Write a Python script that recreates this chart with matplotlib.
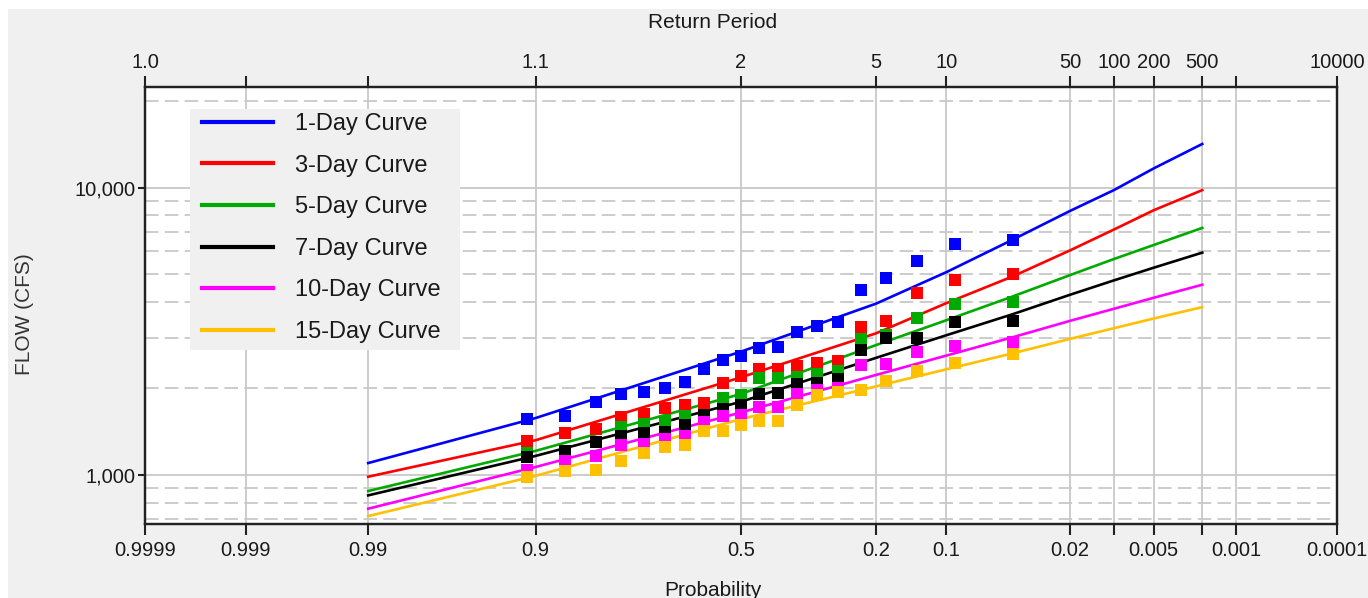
import numpy as np
import matplotlib
matplotlib.use("Agg")
import matplotlib.pyplot as plt
from matplotlib.lines import Line2D
from matplotlib.patches import Rectangle
from matplotlib.ticker import NullLocator, LogLocator, NullFormatter
from statistics import NormalDist

plt.rcParams["font.family"] = ["Liberation Sans", "DejaVu Sans"]

# ---------------------------------------------------------------------------
# Frequency-curve data (exceedance probability vs flow, cfs)
# ---------------------------------------------------------------------------
curve_prob = [0.99, 0.9, 0.5, 0.2, 0.1, 0.045, 0.02, 0.01, 0.005, 0.002]
curve_1day = [1100, 1578, 2687, 3945, 5080, 6590, 8300, 9800, 11670, 14190]
curve_3day = [986, 1321, 2187, 3110, 3963, 4909, 6050, 7145, 8346, 9802]
curve_5day = [879, 1213, 1914, 2830, 3456, 4181, 4962, 5642, 6316, 7240]
curve_7day = [849, 1165, 1798, 2555, 3064, 3627, 4239, 4754, 5265, 5940]
curve_10day = [763, 1066, 1650, 2228, 2603, 3015, 3439, 3787, 4138, 4592]
curve_15day = [719, 993, 1565, 2033, 2332, 2651, 2976, 3241, 3504, 3837]

# Observed annual maxima at their plotting positions
obs_prob = [0.909, 0.864, 0.818, 0.773, 0.727, 0.682, 0.636, 0.591, 0.545, 0.5,
            0.455, 0.409, 0.364, 0.318, 0.273, 0.227, 0.182, 0.136, 0.091, 0.045]
obs_1day = [1565, 1607, 1800, 1920, 1950, 2000, 2105, 2339, 2505, 2603,
            2770, 2780, 3140, 3287, 3401, 4412, 4861, 5540, 6384, 6590]
obs_3day = [1315, 1396, 1443, 1585, 1630, 1705, 1756, 1780, 2089, 2218,
            2331, 2340, 2385, 2450, 2484, 3273, 3440, 4295, 4754, 5011]
obs_5day = [1195, 1216, 1300, 1467, 1507, 1547, 1598, 1615, 1852, 1892,
            2175, 2180, 2185, 2251, 2300, 2980, 3062, 3504, 3945, 3994]
obs_7day = [1158, 1216, 1300, 1371, 1402, 1410, 1498, 1611, 1700, 1746,
            1918, 1928, 2065, 2089, 2163, 2718, 2990, 3008, 3401, 3428]
obs_10day = [1041, 1117, 1167, 1267, 1283, 1336, 1371, 1530, 1598, 1611,
             1722, 1729, 1918, 1968, 2013, 2413, 2436, 2682, 2818, 2912]
obs_15day = [986, 1029, 1041, 1117, 1191, 1250, 1276, 1420, 1420, 1498,
             1535, 1547, 1746, 1892, 1944, 1980, 2117, 2300, 2446, 2639]

series_names = ["1-Day Curve", "3-Day Curve", "5-Day Curve",
                "7-Day Curve", "10-Day Curve", "15-Day Curve"]
series_colors = ["#0000ff", "#ff0000", "#00aa00", "#000000", "#ff00ff", "#ffc000"]

# Axis ticks
tick_prob = [0.9999, 0.999, 0.99, 0.9, 0.5, 0.2, 0.1, 0.02, 0.01, 0.005, 0.002, 0.001, 0.0001]
prob_labels = ["0.9999", "0.999", "0.99", "0.9", "0.5", "0.2", "0.1", "0.02", "",
               "0.005", "", "0.001", "0.0001"]
return_labels = ["1.0", "", "", "1.1", "2", "5", "10", "50", "100",
                 "200", "500", "", "10000"]
flow_ticks = [1000, 10000]
flow_labels = ["1,000", "10,000"]

# ---------------------------------------------------------------------------
# Normal-probability scale
# ---------------------------------------------------------------------------
_nd = NormalDist()
_ppf = np.vectorize(_nd.inv_cdf, otypes=[float])
_cdf = np.vectorize(_nd.cdf, otypes=[float])


def prob_forward(p):
    p = np.clip(np.asarray(p, dtype=float), 1e-9, 1 - 1e-9)
    return _ppf(p)


def prob_inverse(z):
    return _cdf(np.asarray(z, dtype=float))


W, H = 1368, 598
AX_L, AX_R, AX_T, AX_B = 145, 1337, 87, 524
AX_W, AX_H = AX_R - AX_L, AX_B - AX_T


def ax_frac(px, py):
    """Pixel position (from top-left) to axes fraction."""
    return (px - AX_L) / AX_W, (AX_B - py) / AX_H


fig = plt.figure(figsize=(W / 100, H / 100), dpi=100, facecolor="#f0f0f0")
ax = fig.add_axes([AX_L / W, 1 - AX_B / H, AX_W / W, AX_H / H])
ax.set_facecolor("white")
ax.set_xscale("function", functions=(prob_forward, prob_inverse))
ax.set_yscale("log")
ax.set_xlim(0.9999, 0.0001)
ax.set_ylim(675, 22400)

grid_c = "#c8c8c8"
ax.set_xticks(tick_prob, labels=prob_labels)
ax.xaxis.set_minor_locator(NullLocator())
ax.set_yticks(flow_ticks, labels=flow_labels)
ax.yaxis.set_minor_locator(LogLocator(base=10, subs=np.arange(2, 10)))
ax.yaxis.set_minor_formatter(NullFormatter())
ax.grid(True, axis="x", which="major", color=grid_c, lw=1.3)
ax.grid(True, axis="y", which="major", color=grid_c, lw=1.3, ls="-")
ax.grid(True, axis="y", which="minor", color=grid_c, lw=1.3, ls=(0, (7.5, 3.5)))
ax.set_axisbelow(True)

tick_font = 14.5
ax.tick_params(axis="x", which="major", direction="out", length=8, width=1.5,
               color="#222222", labelsize=tick_font, pad=4, labelcolor="#1a1a1a")
ax.tick_params(axis="y", which="major", direction="out", length=5, width=1.5,
               color="#222222", labelsize=tick_font, pad=2, labelcolor="#1a1a1a")
ax.tick_params(axis="y", which="minor", length=0)
for s in ax.spines.values():
    s.set_color("#222222")
    s.set_linewidth(1.6)

# Frequency curves then observed points
for vals, c in zip([curve_1day, curve_3day, curve_5day, curve_7day, curve_10day, curve_15day],
                   series_colors):
    ax.plot(curve_prob, vals, color=c, lw=1.9, zorder=3)
for vals, c in zip([obs_1day, obs_3day, obs_5day, obs_7day, obs_10day, obs_15day],
                   series_colors):
    ax.plot(obs_prob, vals, ls="none", marker="s", ms=9, mew=0, color=c, zorder=4)

# Return-period axis on top
ax2 = ax.twiny()
ax2.set_xscale("function", functions=(prob_forward, prob_inverse))
ax2.set_xlim(ax.get_xlim())
ax2.set_xticks(tick_prob, labels=return_labels)
ax2.xaxis.set_minor_locator(NullLocator())
ax2.tick_params(axis="x", which="major", direction="out", length=8, width=1.5,
                color="#222222", labelsize=tick_font, pad=3, labelcolor="#1a1a1a")
for s in ax2.spines.values():
    s.set_color("#222222")
    s.set_linewidth(1.6)

# Legend: grey panel with the entries laid over it
lx0, ly1 = ax_frac(190, 350)
lx1, ly0 = ax_frac(460, 109)
ax.add_patch(Rectangle((lx0, ly1), lx1 - lx0, ly0 - ly1, transform=ax.transAxes,
                       facecolor="#f0f0f0", edgecolor="none", zorder=6))
handles = [Line2D([], [], color=c, lw=3) for c in series_colors]
leg = ax.legend(handles, series_names, loc="upper left",
                bbox_to_anchor=ax_frac(202, 113),
                borderaxespad=0, borderpad=0, frameon=False,
                fontsize=17, handlelength=3.0, handletextpad=0.95,
                labelspacing=0.83)
leg.set_zorder(10)
for t in leg.get_texts():
    t.set_color("#1a1a1a")

fig.text(713 / W, 1 - 22 / H, "Return Period", ha="center", va="center",
         fontsize=15, color="#1a1a1a")
fig.text(713 / W, 1 - 591 / H, "Probability", ha="center", va="center",
         fontsize=15, color="#1a1a1a")
fig.text(25 / W, 1 - 314 / H, "FLOW (CFS)", ha="center", va="center",
         rotation=90, fontsize=15, color="#333333")

# White margins along the top and left edge
fig.patches.append(Rectangle((0, 1 - 9 / H), 1, 9 / H, transform=fig.transFigure,
                             facecolor="white", edgecolor="none", zorder=-1))
fig.patches.append(Rectangle((0, 0), 8 / W, 1, transform=fig.transFigure,
                             facecolor="white", edgecolor="none", zorder=-1))

fig.savefig("out.png", dpi=100, facecolor=fig.get_facecolor())
